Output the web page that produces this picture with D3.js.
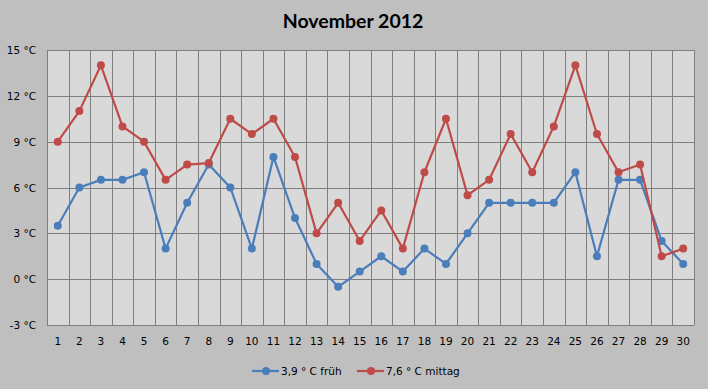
<!DOCTYPE html>
<html><head><meta charset="utf-8">
<script src="https://cdn.jsdelivr.net/npm/d3@7"></script>
<style>body{margin:0;background:#bfbfbf;}svg{display:block;}</style>
</head><body>
<svg id="c" width="708" height="389"></svg>
<script>
const days = d3.range(1, 31).map(String);
const frueh = [3.5,6,6.5,6.5,7,2,5,7.5,6,2,8,4,1,-0.5,0.5,1.5,0.5,2,1,3,5,5,5,5,7,1.5,6.5,6.5,2.5,1];
const mittag = [9,11,14,10,9,6.5,7.5,7.6,10.5,9.5,10.5,8,3,5,2.5,4.5,2,7,10.5,5.5,6.5,9.5,7,10,14,9.5,7,7.5,1.5,2];
const yTicks = [-3,0,3,6,9,12,15];
const seriesNames = ["3,9 ° C früh", "7,6 ° C mittag"];
const colors = ["#4a7ebb", "#be4b48"];

const svg = d3.select("#c");
const W = 708, H = 389;
svg.append("rect").attr("width", W).attr("height", H).attr("fill", "#bfbfbf");
const m = {l: 47, r: 694, t: 50, b: 325};

const x = d3.scaleBand().domain(days).range([m.l, m.r]);
const y = d3.scaleLinear().domain([-3, 15]).range([m.b, m.t]);

svg.append("rect").attr("x", m.l).attr("y", m.t).attr("width", m.r - m.l).attr("height", m.b - m.t).attr("fill", "#d9d9d9");

const g = svg.append("g").attr("stroke", "#7f7f7f").attr("stroke-width", 1).attr("shape-rendering", "crispEdges");
days.forEach(d => {
  const xx = Math.round(x(d)) + 0.5;
  g.append("line").attr("x1", xx).attr("x2", xx).attr("y1", m.t).attr("y2", m.b);
});
g.append("line").attr("x1", m.r + 0.5).attr("x2", m.r + 0.5).attr("y1", m.t).attr("y2", m.b);
yTicks.forEach(t => {
  const yy = Math.round(y(t)) + 0.5;
  g.append("line").attr("x1", m.l).attr("x2", m.r).attr("y1", yy).attr("y2", yy);
});

svg.append("g").selectAll("text").data(yTicks).join("text")
  .attr("x", 36).attr("y", d => y(d) + 4).attr("text-anchor", "end")
  .attr("font-family", "DejaVu Sans, sans-serif").attr("font-size", 10.5).attr("fill", "#000")
  .text(d => d + " °C");

svg.append("g").selectAll("text").data(days).join("text")
  .attr("x", d => x(d) + x.bandwidth() / 2).attr("y", 345).attr("text-anchor", "middle")
  .attr("font-family", "DejaVu Sans, sans-serif").attr("font-size", 10.5).attr("fill", "#000")
  .text(d => d);

svg.append("text").attr("x", 353).attr("y", 28).attr("text-anchor", "middle")
  .attr("font-family", "Lato, Open Sans, sans-serif").attr("font-weight", "bold").attr("font-size", 19.5)
  .attr("fill", "#000").text("November 2012");

const line = d3.line().x((d, i) => x(days[i]) + x.bandwidth() / 2).y(d => y(d));
[frueh, mittag].forEach((s, k) => {
  svg.append("path").datum(s).attr("d", line).attr("fill", "none")
    .attr("stroke", colors[k]).attr("stroke-width", 2.2).attr("stroke-linejoin", "round");
  svg.append("g").selectAll("circle").data(s).join("circle")
    .attr("cx", (d, i) => x(days[i]) + x.bandwidth() / 2).attr("cy", d => y(d))
    .attr("r", 4).attr("fill", colors[k]);
});

const legX = [252, 357];
seriesNames.forEach((n, k) => {
  const lg = svg.append("g");
  lg.append("line").attr("x1", legX[k]).attr("x2", legX[k] + 27).attr("y1", 371).attr("y2", 371)
    .attr("stroke", colors[k]).attr("stroke-width", 2.2);
  lg.append("circle").attr("cx", legX[k] + 14).attr("cy", 371).attr("r", 4).attr("fill", colors[k]);
  lg.append("text").attr("x", legX[k] + 29).attr("y", 375)
    .attr("font-family", "DejaVu Sans, sans-serif").attr("font-size", 10.5).attr("fill", "#000").text(n);
});
</script>
</body></html>
